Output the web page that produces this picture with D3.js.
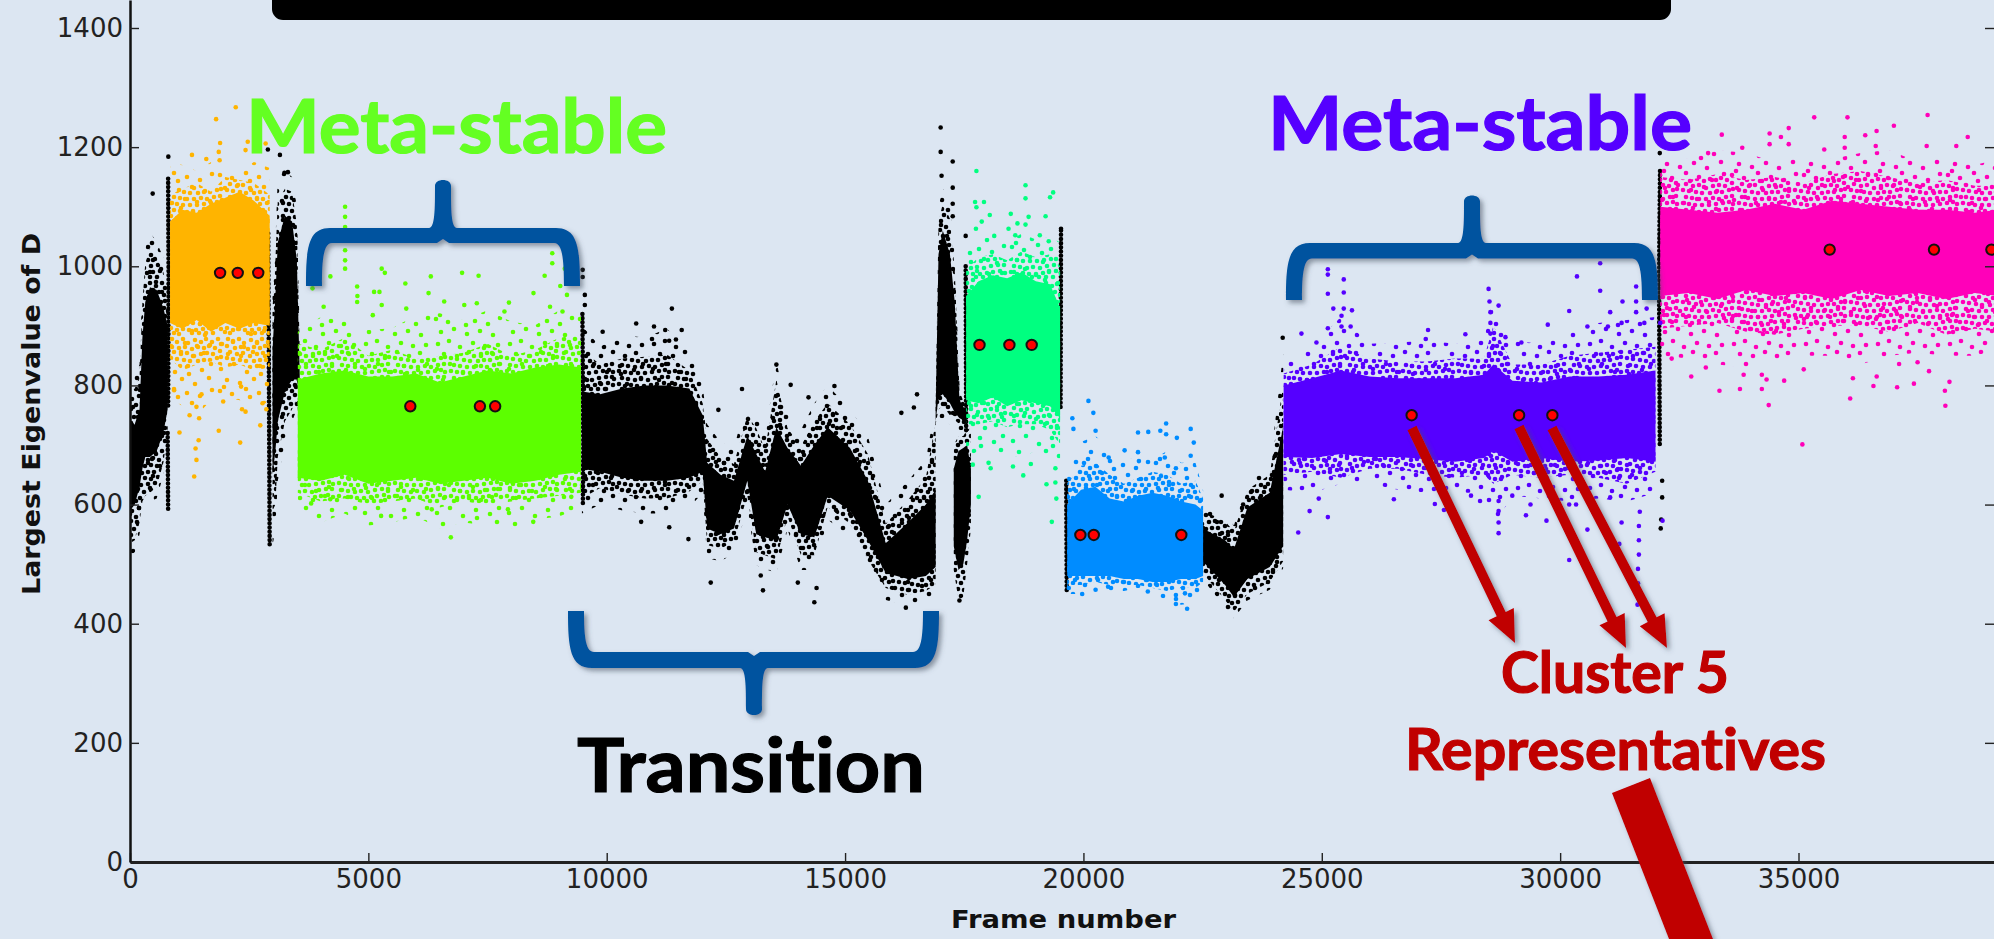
<!DOCTYPE html>
<html>
<head>
<meta charset="utf-8">
<script src="https://cdn.jsdelivr.net/npm/d3@7"></script>
<style>
  html, body { margin: 0; padding: 0; background: #dce6f2; overflow: hidden; }
  svg { display: block; }
  .tick text { font-family: "DejaVu Sans", sans-serif; font-size: 26px; fill: #222; }
  .callout { font-family: Lato, "Open Sans", sans-serif; font-weight: 700; font-variant-ligatures: none; }
  .axis-title { font-family: "DejaVu Sans", sans-serif; font-weight: 700; fill: #111; }
</style>
</head>
<body>
<svg id="chart" width="1994" height="939"></svg>
<script>
var xTicks = [0, 5000, 10000, 15000, 20000, 25000, 30000, 35000];
var yTicks = [0, 200, 400, 600, 800, 1000, 1200, 1400];

var orange = "#ffb400", lime = "#5cff00", spring = "#00ff80", azure = "#008cff", violet = "#5500ff", pink = "#ff00b9", ink = "#000000";

var orangeFrames = [840, 1100, 1400, 1700, 2000, 2300, 2600, 2930];
var orangeOuterHigh = [1175, 1170, 1160, 1175, 1150, 1160, 1175, 1165];
var orangeMidHigh = [1120, 1130, 1140, 1125, 1150, 1145, 1140, 1120];
var orangeCoreHigh = [1075, 1095, 1090, 1105, 1115, 1125, 1110, 1085];
var orangeCoreLow = [905, 895, 910, 890, 905, 895, 905, 900];
var orangeMidLow = [845, 825, 835, 840, 830, 835, 825, 830];
var orangeOuterLow = [780, 765, 750, 775, 780, 775, 770, 770];

var limeFrames = [3520, 4000, 4500, 5000, 5500, 6000, 6500, 7000, 7500, 8000, 8500, 9000, 9460];
var limeOuterHigh = [890, 915, 910, 893, 896, 918, 921, 910, 926, 907, 901, 926, 929];
var limeMidHigh = [870, 860, 880, 850, 860, 845, 850, 855, 870, 850, 860, 880, 885];
var limeCoreHigh = [810, 820, 825, 815, 815, 820, 805, 815, 825, 820, 830, 835, 830];
var limeCoreLow = [645, 640, 650, 635, 640, 645, 635, 640, 645, 635, 640, 650, 655];
var limeMidLow = [620, 605, 610, 600, 605, 610, 595, 605, 600, 605, 610, 615, 620];
var limeOuterLow = [585, 570, 585, 565, 570, 580, 560, 570, 565, 560, 575, 580, 595];

var springFrames = [17540, 17800, 18100, 18400, 18700, 19000, 19300, 19510];
var springOuterHigh = [1025, 1045, 1050, 1040, 1055, 1045, 1050, 1040];
var springMidHigh = [995, 1015, 1020, 1010, 1025, 1015, 1020, 1000];
var springCoreHigh = [950, 975, 985, 980, 990, 975, 970, 930];
var springCoreLow = [775, 770, 780, 765, 775, 770, 765, 745];
var springMidLow = [735, 735, 740, 730, 735, 735, 725, 700];
var springOuterLow = [680, 690, 685, 680, 680, 690, 675, 660];

var azureFrames = [19660, 19950, 20250, 20550, 20850, 21150, 21450, 21750, 22050, 22350, 22510];
var azureOuterHigh = [665, 705, 715, 695, 675, 680, 675, 690, 670, 670, 625];
var azureMidHigh = [635, 665, 670, 650, 635, 645, 655, 650, 635, 640, 610];
var azureCoreHigh = [600, 625, 630, 610, 605, 615, 620, 615, 605, 600, 590];
var azureCoreLow = [480, 480, 480, 480, 475, 475, 470, 470, 475, 475, 480];
var azureMidLow = [465, 465, 470, 465, 465, 465, 460, 455, 460, 460, 470];
var azureOuterLow = [450, 450, 455, 455, 455, 460, 450, 440, 432, 435, 455];

var violetFrames = [24200, 24800, 25400, 26000, 26600, 27200, 27800, 28400, 28600, 29000, 29600, 30200, 30800, 31400, 32000];
var violetOuterHigh = [845, 865, 915, 870, 872, 875, 870, 880, 935, 875, 870, 890, 905, 910, 915];
var violetMidHigh = [820, 835, 865, 845, 840, 840, 845, 845, 900, 835, 835, 850, 855, 860, 865];
var violetCoreHigh = [800, 812, 825, 815, 812, 812, 812, 818, 835, 808, 805, 815, 815, 818, 825];
var violetCoreLow = [680, 678, 685, 680, 680, 676, 672, 678, 690, 672, 678, 672, 674, 678, 672];
var violetMidLow = [650, 655, 645, 660, 660, 650, 645, 650, 635, 650, 645, 650, 645, 635, 655];
var violetOuterLow = [625, 620, 635, 635, 625, 620, 620, 620, 565, 615, 610, 605, 610, 605, 620];

var pinkFrames = [32100, 32700, 33300, 33900, 34500, 35100, 35700, 36300, 36900, 37500, 38100, 38700, 39200];
var pinkOuterHigh = [1185, 1180, 1195, 1190, 1175, 1185, 1180, 1190, 1195, 1175, 1185, 1170, 1180];
var pinkMidHigh = [1150, 1145, 1155, 1145, 1150, 1140, 1155, 1160, 1150, 1140, 1145, 1135, 1135];
var pinkCoreHigh = [1100, 1095, 1090, 1095, 1105, 1095, 1110, 1105, 1100, 1095, 1095, 1090, 1095];
var pinkCoreLow = [950, 955, 945, 960, 950, 955, 945, 960, 950, 955, 945, 955, 950];
var pinkMidLow = [895, 900, 905, 890, 885, 895, 900, 900, 890, 905, 885, 895, 890];
var pinkOuterLow = [850, 845, 835, 830, 840, 850, 850, 835, 850, 855, 850, 850, 860];

var transitionFrames = [9480, 9860, 10328, 10795, 11263, 11733, 12013, 12107, 12388, 12669, 12950, 13137, 13323, 13559, 13793, 14074, 14355, 14636, 15104, 15478, 15853, 16321, 16695, 16900];
var transitionOuterHigh = [900, 865, 885, 880, 895, 860, 800, 735, 705, 695, 780, 750, 715, 840, 755, 725, 770, 800, 760, 715, 600, 640, 675, 770];
var transitionMidHigh = [860, 835, 845, 848, 852, 825, 770, 710, 680, 668, 750, 728, 692, 810, 728, 698, 740, 770, 735, 685, 568, 608, 645, 740];
var transitionCoreHigh = [790, 785, 795, 800, 800, 795, 750, 670, 650, 640, 715, 685, 655, 730, 695, 665, 700, 730, 695, 640, 535, 570, 600, 625];
var transitionCoreLow = [660, 655, 645, 640, 640, 645, 655, 560, 550, 560, 640, 550, 545, 540, 600, 550, 545, 615, 590, 540, 485, 475, 480, 495];
var transitionMidLow = [610, 628, 617, 610, 610, 622, 640, 532, 526, 538, 615, 520, 515, 508, 580, 515, 515, 596, 568, 508, 460, 448, 455, 466];
var transitionOuterLow = [585, 600, 590, 585, 585, 595, 620, 510, 505, 518, 595, 498, 492, 485, 558, 490, 490, 575, 545, 485, 440, 430, 432, 445];

var startFrames = [0, 100, 200, 260, 320, 420, 560, 700, 790];
var startOuterHigh = [810, 815, 835, 965, 1030, 1058, 1040, 1015, 990];
var startMidHigh = [790, 795, 815, 940, 1005, 1030, 1015, 990, 960];
var startCoreHigh = [730, 735, 760, 880, 940, 965, 960, 930, 900];
var startCoreLow = [590, 600, 630, 660, 680, 680, 690, 720, 760];
var startMidLow = [535, 540, 570, 605, 615, 620, 630, 670, 720];
var startOuterLow = [515, 520, 550, 590, 600, 605, 610, 650, 700];

var returnFrames = [2990, 3050, 3100, 3250, 3400, 3500, 3560];
var returnOuterHigh = [960, 1040, 1150, 1160, 1150, 1100, 880];
var returnMidHigh = [930, 1010, 1110, 1130, 1125, 1070, 860];
var returnCoreHigh = [860, 950, 1040, 1085, 1075, 1010, 820];
var returnCoreLow = [650, 690, 740, 790, 810, 810, 780];
var returnMidLow = [590, 600, 680, 740, 760, 780, 720];
var returnOuterLow = [530, 560, 640, 700, 740, 760, 690];

var spikeFrames = [16900, 16960, 17050, 17200, 17300, 17400, 17550];
var spikeOuterHigh = [770, 1100, 1130, 1110, 1020, 800, 765];
var spikeMidHigh = [765, 1075, 1105, 1080, 995, 790, 760];
var spikeCoreHigh = [755, 1020, 1060, 1020, 940, 775, 755];
var spikeCoreLow = [740, 780, 785, 770, 755, 745, 740];
var spikeMidLow = [735, 760, 765, 750, 742, 735, 735];
var spikeOuterLow = [725, 745, 745, 735, 730, 725, 725];

var footFrames = [17280, 17380, 17480, 17560, 17640];
var footOuterHigh = [700, 715, 715, 725, 730];
var footCoreHigh = [660, 690, 695, 700, 660];
var footCoreLow = [530, 490, 500, 540, 600];
var footOuterLow = [490, 440, 445, 500, 560];

var valleyFrames = [22503, 22971, 23158, 23439, 23908, 24189];
var valleyOuterHigh = [601, 583, 565, 637, 661, 853];
var valleyMidHigh = [590, 572, 555, 625, 650, 800];
var valleyCoreHigh = [560, 540, 525, 595, 620, 730];
var valleyCoreLow = [505, 465, 445, 475, 495, 530];
var valleyMidLow = [485, 440, 420, 450, 470, 505];
var valleyOuterLow = [475, 427, 409, 439, 457, 493];

// thin one-frame-wide runs of points, frame then value
var firstRidge = [[800, 1147], [810, 980], [800, 763]];
var secondRidge = [[790, 720], [800, 590]];
var orangeEdge = [[2900, 1055], [2915, 800], [2930, 530]];
var limeEdge = [[9490, 920], [9510, 700], [9500, 600]];
var springLeftEdge = [[17530, 1000], [17540, 720]];
var springRightEdge = [[19530, 1060], [19520, 760]];
var azureEdge = [[19640, 640], [19650, 455]];
var pinkEdge = [[32095, 1160], [32075, 980], [32090, 700]];

// single points that stand clear of the clouds, frame then value
var orangeStrays = [[2218, 1267], [1806, 1247], [1890, 1207], [1862, 1192], [2845, 1206], [2470, 1209], [1300, 1187], [2424, 1195], [1880, 1178], [1600, 1180], [1038, 721], [1862, 724], [2311, 704], [2733, 733], [1440, 708], [1375, 694], [1394, 675], [1347, 647], [2424, 756], [1955, 773], [925, 792], [1394, 764], [2330, 798], [1250, 750], [1450, 745], [2780, 770], [2860, 760], [2350, 760], [1500, 785]];
var limeStrays = [[4512, 1100], [4512, 1083], [4512, 1066], [4512, 1027], [4512, 996], [5280, 996], [5346, 989], [6310, 983], [6966, 989], [7312, 984], [8858, 1022], [8698, 984], [9120, 996], [4203, 983], [5776, 971], [5233, 957], [9026, 967], [4765, 966], [5120, 957], [6263, 955], [8464, 955], [9166, 952], [3828, 963], [4062, 932], [4765, 940], [5280, 935], [5795, 929], [6591, 941], [7012, 935], [7275, 938], [7949, 939], [8811, 932], [5093, 918], [7855, 924], [9073, 924], [6730, 545], [8459, 571], [4200, 609], [5267, 581], [3800, 602], [6330, 592], [7927, 592], [9257, 613], [4512, 1045], [4512, 1010], [4770, 950], [8858, 1005]];
var springStrays = [[17755, 1160], [18785, 1136], [19365, 1124], [19300, 1116], [18785, 1114], [17727, 1108], [17914, 1108], [17755, 1099], [18036, 1086], [18476, 1088], [18850, 1083], [19206, 1084], [17867, 1075], [18616, 1072], [18429, 1063], [18785, 1070], [17745, 1063], [19085, 1052], [18129, 1051], [18570, 1052], [19272, 1042], [17802, 613], [19337, 571], [19431, 610], [19225, 634], [19412, 637], [18738, 649], [18054, 661], [18897, 668], [18522, 664], [17680, 667], [19412, 661], [18010, 670]];
var azureStrays = [[20105, 774], [20208, 754], [19768, 745], [19790, 727], [20255, 724], [21735, 736], [21613, 724], [21145, 721], [21360, 722], [21735, 718], [21960, 712], [22250, 727], [22315, 704], [20864, 691], [21145, 688], [21164, 673], [21707, 679], [22250, 682], [21940, 661], [20530, 679], [19974, 450], [20517, 462], [20255, 457], [21351, 454], [21940, 433], [22175, 425], [21940, 448], [22130, 451], [19693, 460]];
var violetStrays = [[25127, 995], [25127, 986], [25461, 978], [25127, 954], [25461, 956], [25242, 929], [25461, 929], [25633, 926], [25414, 917], [25414, 899], [25605, 899], [25127, 896], [24573, 887], [24888, 872], [27229, 893], [27181, 878], [28012, 886], [28499, 962], [28518, 941], [28537, 923], [28537, 905], [28537, 887], [28709, 934], [28853, 881], [29187, 872], [29741, 902], [30353, 983], [30840, 1005], [30840, 959], [30190, 925], [31050, 923], [31308, 941], [31594, 966], [31594, 941], [31594, 923], [31814, 929], [31002, 899], [31289, 905], [31766, 905], [32100, 905], [30572, 899], [24506, 553], [25127, 579], [24745, 589], [24936, 610], [26512, 609], [27372, 601], [27563, 591], [28709, 552], [28709, 570], [28709, 589], [28709, 606], [28996, 615], [29283, 582], [29713, 573], [29378, 600], [30190, 507], [31241, 534], [31671, 588], [31652, 564], [31652, 540], [31652, 516], [31633, 492], [31633, 468], [31623, 432], [30334, 600], [30572, 558], [31050, 612], [32148, 573], [28320, 606], [28130, 615], [31289, 570], [30190, 600]];
var pinkStrays = [[35330, 1250], [36027, 1250], [37708, 1254], [37001, 1236], [33391, 1221], [34394, 1223], [34795, 1232], [34632, 1217], [35970, 1217], [36400, 1220], [36638, 1227], [38550, 1217], [37689, 1202], [38310, 1202], [33820, 1199], [33104, 1190], [35540, 1196], [34795, 1205], [34394, 1205], [35970, 1199], [36620, 1202], [35081, 701], [34375, 767], [36084, 778], [38081, 766], [33342, 791], [33772, 794], [34231, 794], [32750, 815], [33056, 830], [34699, 808], [36572, 799], [37069, 797], [37421, 803], [38071, 791], [38167, 806], [32340, 845], [33849, 818], [36141, 812], [36640, 815], [37738, 824], [37110, 836], [37498, 839], [35110, 827], [34231, 818], [34330, 810]];
var inkStrays = [[804, 1184], [476, 1122], [3145, 1187], [2892, 1196], [3313, 1158], [3240, 1157], [9495, 994], [9495, 982], [9541, 952], [9541, 935], [11367, 929], [10618, 904], [9915, 890], [10992, 899], [11227, 893], [11573, 893], [11310, 875], [10950, 878], [11452, 877], [12342, 759], [12182, 469], [13278, 456], [13231, 481], [14355, 436], [14402, 460], [14009, 469], [13559, 835], [12838, 794], [14777, 799], [14233, 780], [13859, 801], [16509, 785], [16181, 754], [16443, 763], [11714, 542], [10722, 571], [11312, 562], [16275, 427], [17399, 439], [17005, 1233], [17005, 1192], [17258, 1176], [17024, 1152], [17258, 1132], [17258, 1105], [17258, 1084], [17530, 1051], [19530, 1063], [24180, 880], [22900, 615], [23350, 600], [32090, 1190], [32140, 640], [32140, 612], [32120, 575], [32110, 560]];

// cluster representatives, frame then value
var representatives = [[1890, 989], [2260, 989], [2690, 989], [5880, 765], [7340, 765], [7660, 765], [17820, 868], [18447, 868], [18915, 868], [19936, 549], [20217, 549], [22053, 549], [26885, 750], [29139, 750], [29837, 750], [35654, 1028], [37842, 1028], [39046, 1028]];

var sparseTile = [[5, 9], [18, 4], [31, 12], [44, 6], [58, 10], [67, 4], [11, 20], [24, 23], [38, 19], [51, 24], [65, 18], [4, 31], [16, 34], [30, 29], [43, 33], [56, 36], [68, 30], [9, 44], [22, 41], [35, 46], [48, 43], [61, 47], [6, 56], [17, 53], [28, 59], [41, 55], [53, 58], [66, 57], [12, 66], [25, 68], [37, 64], [49, 68], [60, 65], [34, 37], [8, 27], [45, 14]];
var denseTile = [[4, 3], [9, 6], [15, 3], [20, 7], [27, 4], [33, 6], [38, 3], [44, 6], [50, 3], [53, 8], [3, 10], [11, 12], [17, 11], [24, 13], [30, 11], [36, 12], [41, 10], [47, 12], [6, 16], [13, 18], [19, 17], [26, 20], [33, 18], [39, 17], [45, 18], [52, 15], [3, 22], [9, 23], [16, 24], [22, 25], [30, 25], [36, 24], [42, 24], [49, 22], [53, 21], [6, 29], [12, 30], [19, 31], [26, 31], [33, 30], [39, 31], [46, 29], [52, 28], [3, 35], [9, 36], [15, 37], [22, 37], [29, 37], [36, 36], [43, 35], [49, 34], [53, 36], [6, 42], [12, 43], [19, 44], [25, 43], [32, 44], [39, 42], [46, 41], [52, 41], [3, 48], [9, 50], [15, 49], [21, 50], [28, 50], [35, 49], [41, 48], [48, 47], [53, 49], [6, 53], [24, 53], [31, 53], [38, 53], [45, 53]];

var x = d3.scaleLinear().domain([0, 39101]).range([130, 1994]);
var y = d3.scaleLinear().domain([0, 1447]).range([862, 0]);
var svg = d3.select("#chart");
var defs = svg.append("defs");

defs.append("filter").attr("id", "soft-shadow")
  .attr("x", "-20%").attr("y", "-20%").attr("width", "140%").attr("height", "140%")
  .append("feDropShadow")
  .attr("dx", 3).attr("dy", 3).attr("stdDeviation", 2.5)
  .attr("flood-color", "#44505f").attr("flood-opacity", 0.55);

function tileFill(color, tile, size, name) {
  var id = name + "-" + color.slice(1);
  if (defs.select("#" + id).empty()) {
    defs.append("pattern").attr("id", id)
      .attr("patternUnits", "userSpaceOnUse")
      .attr("width", size).attr("height", size)
      .selectAll("circle").data(tile).join("circle")
      .attr("cx", function (d) { return d[0]; })
      .attr("cy", function (d) { return d[1]; })
      .attr("r", 2.3)
      .attr("fill", color);
  }
  return "url(#" + id + ")";
}

var bandArea = d3.area()
  .x(function (d) { return x(d.frame); })
  .y0(function (d) { return y(d.low); })
  .y1(function (d) { return y(d.high); });

var columnLine = d3.line()
  .x(function (d) { return x(d[0]); })
  .y(function (d) { return y(d[1]); });

var plot = svg.append("g");

function drawBand(color, frames, low, high, density) {
  var fill = density === "core" ? color
    : density === "dense" ? tileFill(color, denseTile, 56, "dense")
    : tileFill(color, sparseTile, 72, "sparse");
  var rows = frames.map(function (frame, i) { return { frame: frame, low: low[i], high: high[i] }; });
  plot.append("path").datum(rows).attr("d", bandArea).attr("fill", fill);
}

function drawCloud(color, frames, outerLow, outerHigh, midLow, midHigh, coreLow, coreHigh) {
  drawBand(color, frames, outerLow, outerHigh, "sparse");
  drawBand(color, frames, midLow, midHigh, "dense");
  drawBand(color, frames, coreLow, coreHigh, "core");
}

function drawColumn(points) {
  plot.append("path").datum(points)
    .attr("d", columnLine)
    .attr("fill", "none")
    .attr("stroke", ink)
    .attr("stroke-width", 4.6)
    .attr("stroke-linecap", "round")
    .attr("stroke-dasharray", "0 4.2");
}

function drawStrays(color, points) {
  plot.append("g").selectAll("circle").data(points).join("circle")
    .attr("cx", function (d) { return x(d[0]); })
    .attr("cy", function (d) { return y(d[1]); })
    .attr("r", 2.3)
    .attr("fill", color);
}

drawCloud(ink, startFrames, startOuterLow, startOuterHigh, startMidLow, startMidHigh, startCoreLow, startCoreHigh);
drawCloud(ink, returnFrames, returnOuterLow, returnOuterHigh, returnMidLow, returnMidHigh, returnCoreLow, returnCoreHigh);
drawCloud(ink, transitionFrames, transitionOuterLow, transitionOuterHigh, transitionMidLow, transitionMidHigh, transitionCoreLow, transitionCoreHigh);
drawCloud(ink, spikeFrames, spikeOuterLow, spikeOuterHigh, spikeMidLow, spikeMidHigh, spikeCoreLow, spikeCoreHigh);
drawBand(ink, footFrames, footOuterLow, footOuterHigh, "dense");
drawBand(ink, footFrames, footCoreLow, footCoreHigh, "core");
drawCloud(ink, valleyFrames, valleyOuterLow, valleyOuterHigh, valleyMidLow, valleyMidHigh, valleyCoreLow, valleyCoreHigh);
[firstRidge, secondRidge, orangeEdge, limeEdge, springLeftEdge, springRightEdge, azureEdge, pinkEdge].forEach(drawColumn);
drawStrays(ink, inkStrays);

drawCloud(orange, orangeFrames, orangeOuterLow, orangeOuterHigh, orangeMidLow, orangeMidHigh, orangeCoreLow, orangeCoreHigh);
drawCloud(lime, limeFrames, limeOuterLow, limeOuterHigh, limeMidLow, limeMidHigh, limeCoreLow, limeCoreHigh);
drawCloud(spring, springFrames, springOuterLow, springOuterHigh, springMidLow, springMidHigh, springCoreLow, springCoreHigh);
drawCloud(azure, azureFrames, azureOuterLow, azureOuterHigh, azureMidLow, azureMidHigh, azureCoreLow, azureCoreHigh);
drawCloud(violet, violetFrames, violetOuterLow, violetOuterHigh, violetMidLow, violetMidHigh, violetCoreLow, violetCoreHigh);
drawCloud(pink, pinkFrames, pinkOuterLow, pinkOuterHigh, pinkMidLow, pinkMidHigh, pinkCoreLow, pinkCoreHigh);

drawStrays(orange, orangeStrays);
drawStrays(lime, limeStrays);
drawStrays(spring, springStrays);
drawStrays(azure, azureStrays);
drawStrays(violet, violetStrays);
drawStrays(pink, pinkStrays);

plot.append("g").selectAll("circle").data(representatives).join("circle")
  .attr("cx", function (d) { return x(d[0]); })
  .attr("cy", function (d) { return y(d[1]); })
  .attr("r", 5.2)
  .attr("fill", "#ff0000")
  .attr("stroke", "#111")
  .attr("stroke-width", 2);

// axes
var xAxis = svg.append("g").attr("transform", "translate(0,862)")
  .call(d3.axisBottom(x).tickValues(xTicks).tickSizeInner(-9).tickSizeOuter(0).tickPadding(8).tickFormat(d3.format("d")));
var yAxis = svg.append("g").attr("transform", "translate(130,0)")
  .call(d3.axisLeft(y).tickValues(yTicks).tickSizeInner(-9).tickSizeOuter(0).tickPadding(7).tickFormat(d3.format("d")));
var rightAxis = svg.append("g").attr("transform", "translate(1994,0)")
  .call(d3.axisRight(y).tickValues(yTicks).tickSizeInner(-9).tickSizeOuter(0).tickFormat(""));

xAxis.select(".domain").attr("stroke", "#222").attr("stroke-width", 3);
yAxis.select(".domain").attr("stroke", "#111").attr("stroke-width", 2.5);
rightAxis.select(".domain").attr("stroke", "none");
svg.selectAll(".tick line").attr("stroke", "#222").attr("stroke-width", 1.4);

svg.append("text").attr("class", "axis-title")
  .attr("x", 951).attr("y", 928)
  .attr("font-size", 24)
  .attr("textLength", 225).attr("lengthAdjust", "spacingAndGlyphs")
  .text("Frame number");

svg.append("text").attr("class", "axis-title")
  .attr("transform", "translate(40,595) rotate(-90)")
  .attr("font-size", 24)
  .attr("textLength", 362).attr("lengthAdjust", "spacingAndGlyphs")
  .text("Largest Eigenvalue of D");

// slide overlays
var overlay = svg.append("g");

function bracePath(x0, x1, cx, footY, barFar, barNear, stemEnd, w) {
  var s = footY > barFar ? 1 : -1;
  var stem = 8, p = d3.path();
  p.moveTo(x0, footY);
  p.bezierCurveTo(x0, barFar + s * 20, x0 + 2, barFar, x0 + 24, barFar);
  p.lineTo(cx - stem - 6, barFar);
  p.bezierCurveTo(cx - stem, barFar, cx - stem, barFar - s * 20, cx - stem, stemEnd + s * 8);
  p.bezierCurveTo(cx - stem, stemEnd, cx + stem, stemEnd, cx + stem, stemEnd + s * 8);
  p.bezierCurveTo(cx + stem, barFar - s * 20, cx + stem, barFar, cx + stem + 6, barFar);
  p.lineTo(x1 - 24, barFar);
  p.bezierCurveTo(x1 - 2, barFar, x1, barFar + s * 20, x1, footY);
  p.lineTo(x1 - w, footY);
  p.bezierCurveTo(x1 - w, barNear + s * 14, x1 - w - 2, barNear, x1 - w - 10, barNear);
  p.lineTo(cx + 6, barNear);
  p.lineTo(cx, barNear - s * 4);
  p.lineTo(cx - 6, barNear);
  p.lineTo(x0 + w + 10, barNear);
  p.bezierCurveTo(x0 + w + 2, barNear, x0 + w, barNear + s * 14, x0 + w, footY);
  p.closePath();
  return p.toString();
}

function arrowPoints(x1, y1, x2, y2) {
  var len = Math.hypot(x2 - x1, y2 - y1), ux = (x2 - x1) / len, uy = (y2 - y1) / len;
  var nx = -uy, ny = ux, hx = x2 - ux * 32, hy = y2 - uy * 32;
  return [
    [x1 + nx * 5, y1 + ny * 5], [hx + nx * 5, hy + ny * 5], [hx + nx * 14, hy + ny * 14],
    [x2, y2],
    [hx - nx * 14, hy - ny * 14], [hx - nx * 5, hy - ny * 5], [x1 - nx * 5, y1 - ny * 5]
  ].join(" ");
}

var braces = [
  [306, 580, 443, 286, 228, 243, 178, 16],
  [1286, 1658, 1472, 300, 243, 258.6, 193.6, 16],
  [568, 939, 754, 611, 668, 652, 717, 16]
];
overlay.selectAll("path.brace").data(braces).join("path")
  .attr("class", "brace")
  .attr("d", function (d) { return bracePath.apply(null, d); })
  .attr("fill", "#00539f")
  .attr("filter", "url(#soft-shadow)");

var thinArrows = [[1412, 428, 1515, 643], [1519, 427, 1626, 648], [1552, 428, 1667, 648]];
overlay.selectAll("polygon.thin").data(thinArrows).join("polygon")
  .attr("class", "thin")
  .attr("points", function (d) { return arrowPoints.apply(null, d); })
  .attr("fill", "#c00000")
  .attr("filter", "url(#soft-shadow)");

overlay.append("polygon")
  .attr("points", "1612,793 1650,778 1713,939 1669,939")
  .attr("fill", "#c00000")
  .attr("filter", "url(#soft-shadow)");

overlay.append("rect")
  .attr("x", 272).attr("y", -30).attr("width", 1399).attr("height", 50).attr("rx", 11)
  .attr("fill", "#000");

var callouts = [
  ["Meta-stable", 246, 153, 74, 421, "#64ff22"],
  ["Meta-stable", 1268, 150, 74, 424, "#5500ff"],
  ["Transition", 577, 792, 75, 348, "#000000"],
  ["Cluster 5", 1501, 693, 58, 228, "#c00000"],
  ["Representatives", 1405, 770, 58, 421, "#c00000"]
];
overlay.selectAll("text.callout").data(callouts).join("text")
  .attr("class", "callout")
  .attr("x", function (d) { return d[1]; })
  .attr("y", function (d) { return d[2]; })
  .attr("font-size", function (d) { return d[3]; })
  .attr("textLength", function (d) { return d[4]; })
  .attr("lengthAdjust", "spacingAndGlyphs")
  .attr("fill", function (d) { return d[5]; })
  .attr("stroke", function (d) { return d[5]; })
  .attr("stroke-width", 1.2)
  .text(function (d) { return d[0]; });
</script>
</body>
</html>
